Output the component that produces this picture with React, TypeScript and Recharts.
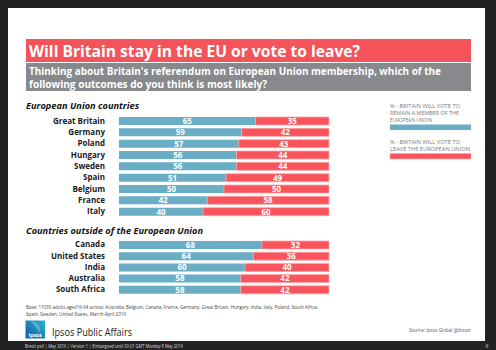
import React from 'react';
import { BarChart, Bar, XAxis, YAxis, LabelList } from 'recharts';

const euCountries = ['Great Britain', 'Germany', 'Poland', 'Hungary', 'Sweden', 'Spain', 'Belgium', 'France', 'Italy'];
const euRemain = [65, 59, 57, 56, 56, 51, 50, 42, 40];
const euLeave = [35, 42, 43, 44, 44, 49, 50, 58, 60];

const otherCountries = ['Canada', 'United States', 'India', 'Australia', 'South Africa'];
const otherRemain = [68, 64, 60, 58, 58];
const otherLeave = [32, 36, 40, 42, 42];

const legendRemain = ['% - BRITAIN WILL VOTE TO', 'REMAIN A MEMBER OF THE', 'EUROPEAN UNION'];
const legendLeave = ['% - BRITAIN WILL VOTE TO', 'LEAVE THE EUROPEAN UNION'];

const BLUE = '#6aaec6';
const RED = '#f9545b';
const FONT = '"Open Sans", "Noto Sans", sans-serif';

const euData = euCountries.map((c, i) => ({ country: c, remain: euRemain[i], leave: euLeave[i] }));
const otherData = otherCountries.map((c, i) => ({ country: c, remain: otherRemain[i], leave: otherLeave[i] }));

function Chart({ data, top, height }: { data: any[]; top: number; height: number }) {
  return (
    <div style={{ position: 'absolute', left: 0, top, width: 340, height }}>
      <BarChart
        width={340}
        height={height}
        data={data}
        layout="vertical"
        stackOffset="expand"
        margin={{ top: 0, right: 11, bottom: 0, left: 0 }}
        barSize={8}
      >
        <XAxis type="number" hide domain={[0, 1]} />
        <YAxis
          type="category"
          dataKey="country"
          width={119}
          axisLine={false}
          tickLine={false}
          tickMargin={8}
          interval={0}
          tick={{ fontSize: 8, fontWeight: 700, fill: '#1a1a1a', fontFamily: FONT }}
        />
        <Bar dataKey="remain" stackId="a" fill={BLUE} isAnimationActive={false}>
          <LabelList dataKey="remain" position="center" fill="#ffffff" fontSize={8} fontWeight={700} fontFamily={FONT} />
        </Bar>
        <Bar dataKey="leave" stackId="a" fill={RED} stroke="#fba7aa" strokeWidth={0.8} isAnimationActive={false}>
          <LabelList dataKey="leave" position="center" fill="#ffffff" fontSize={8} fontWeight={700} fontFamily={FONT} stroke="none" />
        </Bar>
      </BarChart>
    </div>
  );
}

export default function App() {
  return (
    <div style={{ position: 'absolute', left: 0, top: 0, width: 496, height: 350, background: '#222', overflow: 'hidden', fontFamily: FONT }}>
      <svg width={496} height={350} style={{ position: 'absolute', left: 0, top: 0 }}>
        <defs>
          <linearGradient id="logoGrad" x1="1" y1="0" x2="0" y2="1">
            <stop offset="0" stopColor="#2bb3c9" />
            <stop offset="1" stopColor="#1459a8" />
          </linearGradient>
        </defs>
        <rect x={8} y={8} width={477} height={333} fill="#ffffff" />
        <rect x={26} y={39} width={445} height={23} fill="#f5535a" />
        <text x={29} y={56.5} fill="#fff" fontSize={16.5} fontWeight={700} fontFamily={FONT} textLength={331} lengthAdjust="spacingAndGlyphs">
          Will Britain stay in the EU or vote to leave?
        </text>
        <rect x={26} y={63} width={445} height={28} fill="#87898c" />
        <text x={29} y={75} fill="#fff" fontSize={10.5} fontWeight={700} fontFamily={FONT} textLength={412} lengthAdjust="spacingAndGlyphs">
          Thinking about Britain's referendum on European Union membership, which of the
        </text>
        <text x={29} y={87.5} fill="#fff" fontSize={10.5} fontWeight={700} fontFamily={FONT} textLength={238} lengthAdjust="spacingAndGlyphs">
          following outcomes do you think is most likely?
        </text>
        <text x={26} y={108.5} fill="#111" fontSize={9.5} fontWeight={700} fontStyle="italic" fontFamily={FONT} textLength={113} lengthAdjust="spacingAndGlyphs">
          European Union countries
        </text>
        <text x={26} y={233.5} fill="#111" fontSize={9.5} fontWeight={700} fontStyle="italic" fontFamily={FONT} textLength={177} lengthAdjust="spacingAndGlyphs">
          Countries outside of the European Union
        </text>
        {legendRemain.map((t, i) => (
          <text key={'r' + i} x={390} y={107.5 + i * 7.2} fill="#7a7a7a" fontSize={5.3} fontFamily={FONT} textLength={i === 0 ? 70 : i === 1 ? 69 : 42} lengthAdjust="spacingAndGlyphs">
            {t}
          </text>
        ))}
        <rect x={390} y={124.5} width={81} height={5.5} fill={BLUE} />
        {legendLeave.map((t, i) => (
          <text key={'l' + i} x={390} y={144 + i * 7.2} fill="#7a7a7a" fontSize={5.3} fontFamily={FONT} textLength={i === 0 ? 70 : 80} lengthAdjust="spacingAndGlyphs">
            {t}
          </text>
        ))}
        <rect x={390} y={153.5} width={81} height={5.5} fill={RED} stroke="#fba7aa" strokeWidth={0.6} />
        <text x={26} y={308.5} fill="#444" fontSize={5} fontFamily={FONT} textLength={292} lengthAdjust="spacingAndGlyphs">
          Base: 11030 adults aged16-64 across: Australia, Belgium, Canada, France, Germany, Great Britain, Hungary, India, Italy, Poland, South Africa,
        </text>
        <text x={26} y={315.5} fill="#444" fontSize={5} fontFamily={FONT} textLength={100} lengthAdjust="spacingAndGlyphs">
          Spain, Sweden, United States, March-April 2016
        </text>
        <rect x={25.5} y={320.5} width={19.5} height={18} fill="url(#logoGrad)" />
        <path d="M31 321 Q42 323 40 333 Q36 328 31 321 Z" fill="#ffffff" opacity={0.25} />
        <text x={35.2} y={336.5} fill="#fff" fontSize={5.2} fontWeight={700} textAnchor="middle" fontFamily={FONT}>
          Ipsos
        </text>
        <text x={52} y={335.5} fill="#222" fontSize={10} fontFamily={FONT} textLength={80} lengthAdjust="spacingAndGlyphs">
          Ipsos Public Affairs
        </text>
        <text x={409} y={331.5} fill="#555" fontSize={5} fontFamily={FONT} textLength={62} lengthAdjust="spacingAndGlyphs">
          Source: Ipsos Global @dvisor
        </text>
        <text x={25} y={347.5} fill="#ddd" fontSize={4.5} fontFamily={FONT} textLength={158} lengthAdjust="spacingAndGlyphs">
          Brexit poll | May 2016 | Version 1 | Embargoed until 00:01 GMT Monday 9 May 2016
        </text>
        <text x={487} y={347.5} fill="#ddd" fontSize={5} fontFamily={FONT} textAnchor="middle">
          6
        </text>
      </svg>
      <Chart data={euData} top={115} height={102} />
      <Chart data={otherData} top={239} height={56} />
    </div>
  );
}
